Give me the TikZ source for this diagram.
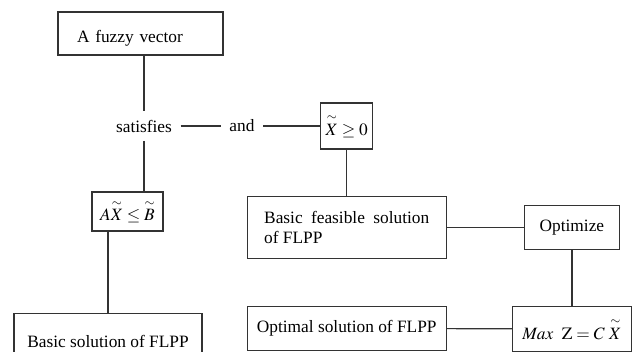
\documentclass[tikz,border=0pt]{standalone}
\usepackage{amsmath}
\usepackage{mathptmx}
\usepackage{fontspec}
\setmainfont{Liberation Serif}
\usepackage{tikz}
\usetikzlibrary{calc,positioning}

\newcommand{\fz}[1]{\overset{\sim}{#1}}

\begin{document}
\begin{tikzpicture}[x=0.75pt,y=-0.75pt,line width=0.9pt,draw=black!80]
	\tikzstyle{block} = [draw=black!80, rectangle, inner sep=0pt, font=\fontsize{13}{15}\selectfont]
	\tikzstyle{word} = [inner sep=6pt, font=\fontsize{13}{15}\selectfont]
	\clip (0,0) rectangle (632,351);

	\node [block, minimum width=123.75pt, minimum height=32.25pt, inner xsep=14.25pt, text width=95.25pt, text height=14pt, text depth=0pt, align=left] at (140.5,33.5) (fuzzy){A fuzzy vector};
	\node [word] at (144,126) (sat){satisfies};
	\node [word] at (242,126) (and){and};
	\node [block, minimum width=39pt, minimum height=34.5pt, right = 42.75pt of and] (xge){$\fz{X}\geq 0$};
	\node [block, minimum width=149.25pt, minimum height=46.5pt, text width=123.75pt, align=justify, below = 34.5pt of xge] (feas){Basic feasible solution of FLPP};
	\node [block, minimum width=71.25pt, minimum height=33pt, right = 57.75pt of feas] (opt){Optimize};
	\node [block, minimum width=89.25pt, minimum height=33.75pt, below = 42pt of opt] (max){$\mathit{Max}\ \ \mathrm{Z} = C\ \fz{X}$};
	\node [block, minimum width=149.25pt, minimum height=33pt, below = 35.25pt of feas] (optimal){Optimal solution of FLPP};
	\node [block, minimum width=53.25pt, minimum height=29.25pt] at (127.5,211.5) (axb){$A\fz{X}\leq\fz{B}$};
	\node [block, minimum width=141pt, minimum height=42pt, below = 60.75pt of axb, xshift=-14.6pt] (basic){Basic solution of FLPP};

	\draw (fuzzy.south -| sat.north) -- (sat.north);
	\draw (sat) -- (and);
	\draw (and.east) -- (and.east -| xge.west);
	\draw (sat.south) -- (sat.south |- axb.north);
	\draw (axb.south -| basic.north) -- (basic.north);
	\draw (xge.south) -- (xge.south |- feas.north);
	\draw (feas) -- (opt);
	\draw (opt.south) -- (opt.south |- max.north);
	\draw (optimal) -- (max);
\end{tikzpicture}
\end{document}
